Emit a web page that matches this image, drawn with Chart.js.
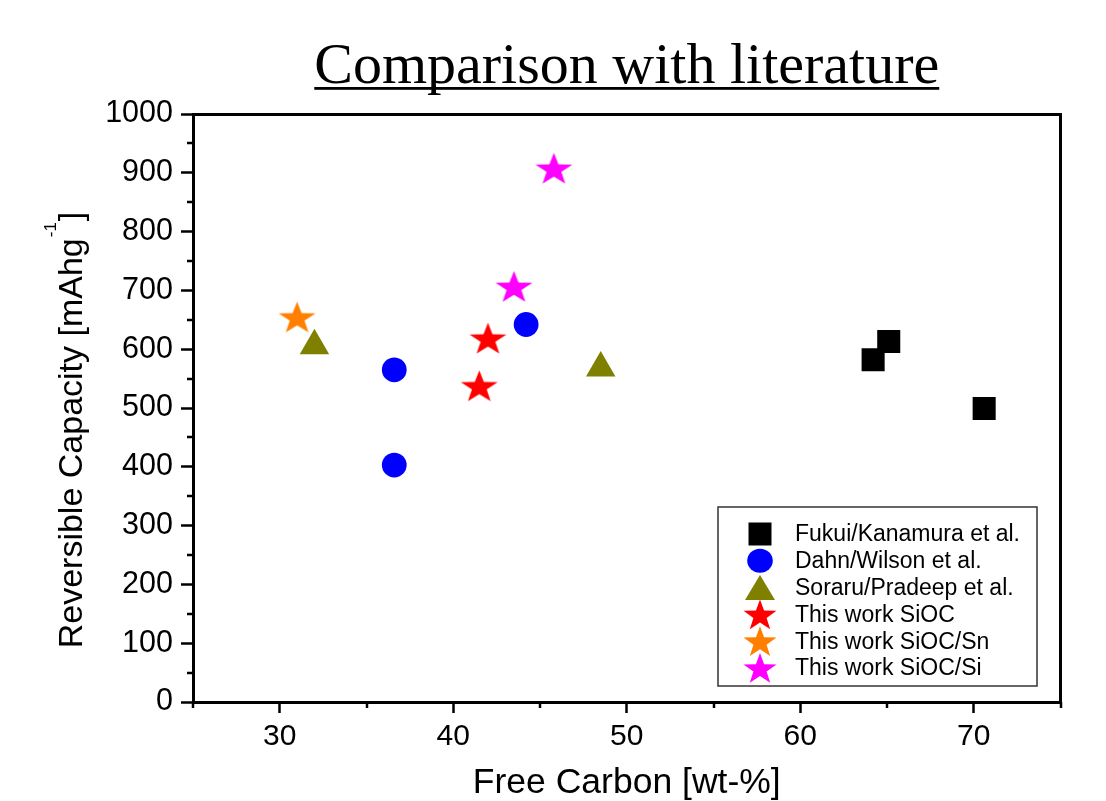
<!DOCTYPE html>
<html>
<head>
<meta charset="utf-8">
<title>Comparison with literature</title>
<script src="https://cdn.jsdelivr.net/npm/chart.js@4.4.1/dist/chart.umd.min.js"></script>
<style>
    html, body { margin: 0; padding: 0; background: #fff; }
    #wrap { width: 1106px; height: 801px; }
</style>
</head>
<body>
<div id="wrap"><canvas id="litChart"></canvas></div>
<script>
// values
const fukuiX = [64.2, 65.1, 70.6];
const fukuiY = [582, 613, 499];
const dahnX = [36.6, 36.6, 44.2];
const dahnY = [565, 403, 642];
const soraruX = [32.0, 48.5];
const soraruY = [606, 568];
const siocX = [41.5, 42.0];
const siocY = [535, 616];
const siocSnX = [31.0];
const siocSnY = [652];
const siocSiX = [43.5, 45.8];
const siocSiY = [704, 905];

const seriesNames = [
    "Fukui/Kanamura et al.",
    "Dahn/Wilson et al.",
    "Soraru/Pradeep et al.",
    "This work SiOC",
    "This work SiOC/Sn",
    "This work SiOC/Si"
];
const xTickLabels = [30, 40, 50, 60, 70];
const yTickLabels = [0, 100, 200, 300, 400, 500, 600, 700, 800, 900, 1000];

const chartTitle = "Comparison with literature";
const xTitle = "Free Carbon [wt-%]";
const yTitleMain = "Reversible Capacity [mAhg";
const yTitleSup = "-1";
const yTitleEnd = "]";

const SANS = "'Liberation Sans', Arial, sans-serif";

function toPoints(xs, ys) {
    return xs.map((x, i) => ({ x: x, y: ys[i] }));
}

function starPath(g, cx, cy, r, sx) {
    g.beginPath();
    for (let k = 0; k < 10; k++) {
        const rad = k % 2 === 0 ? r : r * 0.4;
        const a = -Math.PI / 2 + k * Math.PI / 5;
        const px = cx + Math.cos(a) * rad * sx;
        const py = cy + Math.sin(a) * rad;
        if (k === 0) g.moveTo(px, py); else g.lineTo(px, py);
    }
    g.closePath();
}

function makeStar(color, r, sx) {
    const c = document.createElement("canvas");
    c.width = Math.ceil(2 * r * sx) + 2;
    c.height = Math.ceil(2 * r) + 2;
    const g = c.getContext("2d");
    starPath(g, c.width / 2, c.height / 2, r, sx);
    g.fillStyle = color;
    g.fill();
    return c;
}

const colors = ["#000000", "#0000ff", "#808000", "#ff0000", "#ff8000", "#ff00ff"];

// minor ticks, title, y title and legend box
const decorPlugin = {
    id: "decor",
    afterDraw(chart) {
        const ctx = chart.ctx;
        const a = chart.chartArea;
        const xs = chart.scales.x;
        const ys = chart.scales.y;

        ctx.save();
        ctx.strokeStyle = "#000";
        ctx.lineWidth = 2.5;
        ctx.beginPath();
        xs.ticks.forEach(t => {
            if (!xTickLabels.includes(t.value)) {
                const px = Math.round(xs.getPixelForValue(t.value));
                ctx.moveTo(px, a.bottom);
                ctx.lineTo(px, a.bottom + 6);
            }
        });
        ys.ticks.forEach(t => {
            if (!yTickLabels.includes(t.value)) {
                const py = Math.round(ys.getPixelForValue(t.value));
                ctx.moveTo(a.left - 6, py);
                ctx.lineTo(a.left, py);
            }
        });
        ctx.stroke();

        // title, underlined
        ctx.font = "58px 'Liberation Serif', 'Times New Roman', serif";
        const tw = ctx.measureText(chartTitle).width;
        const cx = (a.left + a.right) / 2;
        ctx.fillStyle = "#000";
        ctx.textAlign = "center";
        ctx.textBaseline = "alphabetic";
        ctx.fillText(chartTitle, cx, 83);
        ctx.fillRect(cx - tw / 2, 87, tw, 2.8);

        // y axis title with superscript
        ctx.font = "34px " + SANS;
        const w1 = ctx.measureText(yTitleMain).width;
        const w3 = ctx.measureText(yTitleEnd).width;
        ctx.font = "17px " + SANS;
        const w2 = ctx.measureText(yTitleSup).width;
        const total = w1 + w2 + w3 + 2;
        ctx.translate(82, (a.top + a.bottom) / 2 + 22);
        ctx.rotate(-Math.PI / 2);
        ctx.textAlign = "left";
        ctx.font = "34px " + SANS;
        ctx.fillText(yTitleMain, -total / 2, 0);
        ctx.font = "17px " + SANS;
        ctx.fillText(yTitleSup, -total / 2 + w1 + 1, -26);
        ctx.font = "34px " + SANS;
        ctx.fillText(yTitleEnd, -total / 2 + w1 + w2 + 2, 0);
        ctx.restore();

        // legend inside the plot
        const bx = a.right - 23.5 - 319;
        const by = a.bottom - 16 - 179;
        ctx.save();
        ctx.fillStyle = "#fff";
        ctx.fillRect(bx, by, 319, 179);
        ctx.strokeStyle = "#333";
        ctx.lineWidth = 1.5;
        ctx.strokeRect(bx, by, 319, 179);
        ctx.font = "23px " + SANS;
        ctx.textBaseline = "middle";
        ctx.textAlign = "left";
        chart.data.datasets.forEach((ds, i) => {
            const my = by + 27 + i * 26.8;
            const mx = bx + 42;
            ctx.fillStyle = ds.backgroundColor;
            if (ds.pointStyle === "rect") {
                ctx.fillRect(mx - 11.5, my - 11.5, 23, 23);
            } else if (ds.pointStyle === "circle") {
                ctx.beginPath();
                ctx.ellipse(mx, my, 12.8, 12, 0, 0, Math.PI * 2);
                ctx.fill();
            } else if (ds.pointStyle === "triangle") {
                ctx.beginPath();
                ctx.moveTo(mx, my - 12.5);
                ctx.lineTo(mx + 15, my + 12.5);
                ctx.lineTo(mx - 15, my + 12.5);
                ctx.closePath();
                ctx.fill();
            } else {
                starPath(ctx, mx, my + 1.5, 16.5, 1.05);
                ctx.fill();
            }
            ctx.fillStyle = "#000";
            ctx.fillText(ds.label, bx + 77, my + 1);
        });
        ctx.restore();
    }
};

const ctx = document.getElementById("litChart");

new Chart(ctx, {

    type: "scatter",

    data: {
        datasets: [
            {
                label: seriesNames[0],
                data: toPoints(fukuiX, fukuiY),
                pointStyle: "rect",
                pointRadius: 16.3,
                backgroundColor: colors[0],
                borderWidth: 0
            },
            {
                label: seriesNames[1],
                data: toPoints(dahnX, dahnY),
                pointStyle: "circle",
                pointRadius: 12.4,
                backgroundColor: colors[1],
                borderWidth: 0
            },
            {
                label: seriesNames[2],
                data: toPoints(soraruX, soraruY),
                pointStyle: "triangle",
                pointRadius: 17,
                backgroundColor: colors[2],
                borderWidth: 0
            },
            {
                label: seriesNames[3],
                data: toPoints(siocX, siocY),
                pointStyle: makeStar(colors[3], 17, 1.14),
                backgroundColor: colors[3],
                borderWidth: 0
            },
            {
                label: seriesNames[4],
                data: toPoints(siocSnX, siocSnY),
                pointStyle: makeStar(colors[4], 17, 1.14),
                backgroundColor: colors[4],
                borderWidth: 0
            },
            {
                label: seriesNames[5],
                data: toPoints(siocSiX, siocSiY),
                pointStyle: makeStar(colors[5], 17, 1.14),
                backgroundColor: colors[5],
                borderWidth: 0
            }
        ]
    },

    options: {
        responsive: true,
        maintainAspectRatio: false,
        animation: false,
        layout: {
            padding: 0
        },
        plugins: {
            legend: { display: false },
            title: { display: false },
            tooltip: { enabled: false }
        },
        scales: {
            x: {
                type: "linear",
                position: "bottom",
                min: 25,
                max: 75,
                afterFit: s => { s.height = 99; },
                border: { display: true, color: "#000", width: 3 },
                grid: {
                    display: true,
                    drawOnChartArea: false,
                    drawTicks: true,
                    tickLength: 11,
                    tickWidth: 2.5,
                    tickColor: c => (c.tick && xTickLabels.includes(c.tick.value)) ? "#000" : "rgba(0,0,0,0)"
                },
                ticks: {
                    stepSize: 5,
                    autoSkip: false,
                    maxRotation: 0,
                    padding: 6,
                    color: "#000",
                    font: { family: SANS, size: 30 },
                    callback: v => xTickLabels.includes(v) ? String(v) : ""
                },
                title: {
                    display: true,
                    text: xTitle,
                    color: "#000",
                    font: { family: SANS, size: 35.5, lineHeight: 1 },
                    padding: { top: 0, bottom: 0 }
                }
            },
            y: {
                type: "linear",
                position: "left",
                min: 0,
                max: 1000,
                afterFit: s => { s.width = 193; },
                border: { display: true, color: "#000", width: 3 },
                grid: {
                    display: true,
                    drawOnChartArea: false,
                    drawTicks: true,
                    tickLength: 12,
                    tickWidth: 2.5,
                    tickColor: c => (c.tick && yTickLabels.includes(c.tick.value)) ? "#000" : "rgba(0,0,0,0)"
                },
                ticks: {
                    stepSize: 50,
                    autoSkip: false,
                    padding: 8,
                    color: "#000",
                    font: { family: SANS, size: 30.5 },
                    callback: v => yTickLabels.includes(v) ? String(v) : ""
                }
            },
            x2: {
                type: "linear",
                position: "top",
                min: 25,
                max: 75,
                afterFit: s => { s.height = 114; },
                border: { display: true, color: "#000", width: 3 },
                grid: { display: false },
                ticks: { display: false }
            },
            y2: {
                type: "linear",
                position: "right",
                min: 0,
                max: 1000,
                afterFit: s => { s.width = 45.5; },
                border: { display: true, color: "#000", width: 3 },
                grid: { display: false },
                ticks: { display: false }
            }
        }
    },

    plugins: [decorPlugin]

});
</script>
</body>
</html>
